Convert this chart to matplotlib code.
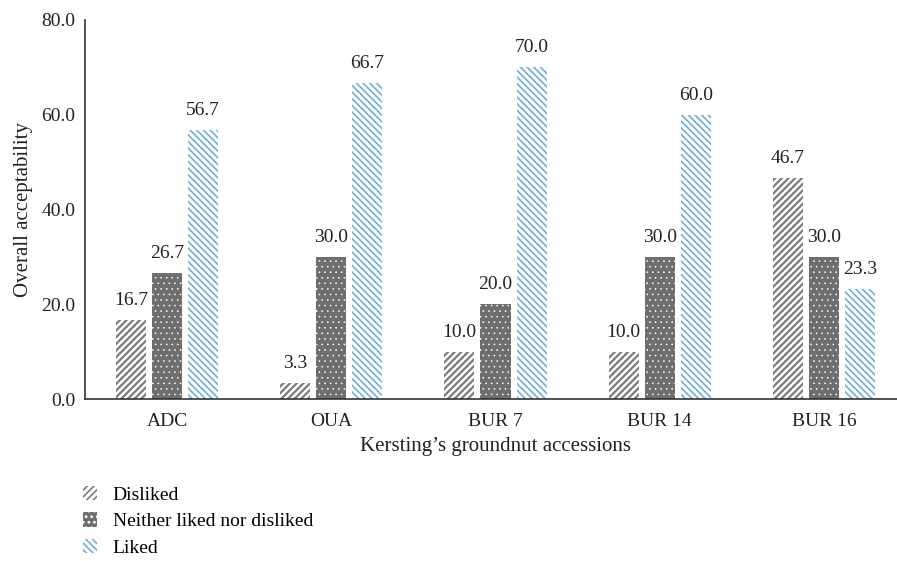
import numpy as np
import matplotlib
matplotlib.use("Agg")
import matplotlib.pyplot as plt
from matplotlib.patches import Patch

# sensory panel results, % of panelists per category
accessions = ["ADC", "OUA", "BUR 7", "BUR 14", "BUR 16"]
disliked = [16.7, 3.3, 10.0, 10.0, 46.7]
neither = [26.7, 30.0, 20.0, 30.0, 30.0]
liked = [56.7, 66.7, 70.0, 60.0, 23.3]
series_names = ["Disliked", "Neither liked nor disliked", "Liked"]

plt.rcParams["font.family"] = ["Liberation Serif", "DejaVu Serif"]

fig = plt.figure(figsize=(8.97, 5.61), dpi=100)
ax = fig.add_axes([85 / 897, 162 / 561, 821 / 897, 379 / 561])

x = np.arange(len(accessions))
w = 0.183
step = 0.22

# (bar style, hatch line width)
styles = [
    (dict(facecolor="white", edgecolor="#7c7c7c", hatch="/" * 5), 1.6),
    (dict(facecolor="#6e6e6e", edgecolor="white", hatch="." * 3), 0.4),
    (dict(facecolor="white", edgecolor="#72aed8", hatch="\\" * 5), 1.2),
]

handles = []
for i, (vals, (st, hlw)) in enumerate(zip([disliked, neither, liked], styles)):
    plt.rcParams["hatch.linewidth"] = hlw
    bars = ax.bar(x + (i - 1) * step, vals, w, linewidth=0, **st)
    handles.append(Patch(linewidth=0, **st))
    for b, v in zip(bars, vals):
        ax.text(b.get_x() + b.get_width() / 2, v + 2.3, f"{v:.1f}",
                ha="center", va="bottom", fontsize=14, color="#222222")

ax.set_xlim(-0.5, 4.5)
ax.set_ylim(0, 80)
ax.set_yticks(np.arange(0, 81, 20))
ax.set_yticklabels([f"{t:.1f}" for t in np.arange(0, 81, 20)])
ax.set_xticks(x)
ax.set_xticklabels(accessions)
ax.tick_params(axis="both", length=0, labelsize=14, colors="#222222")
ax.tick_params(axis="y", pad=7)
ax.tick_params(axis="x", pad=10)

for s in ["top", "right"]:
    ax.spines[s].set_visible(False)
for s in ["left", "bottom"]:
    ax.spines[s].set_color("#333333")
    ax.spines[s].set_linewidth(1.2)

ax.set_xlabel("Kersting\u2019s groundnut accessions", fontsize=15, color="#222222", labelpad=5)
ax.set_ylabel("Overall acceptability", fontsize=15, color="#222222", labelpad=6)

fig.legend(handles, series_names, loc="upper left", bbox_to_anchor=(73 / 897, 1 - 476 / 561),
           frameon=False, fontsize=14, handlelength=0.75, handleheight=0.75,
           handletextpad=0.8, labelspacing=0.45, borderpad=0)

fig.savefig("out.png", dpi=100)
